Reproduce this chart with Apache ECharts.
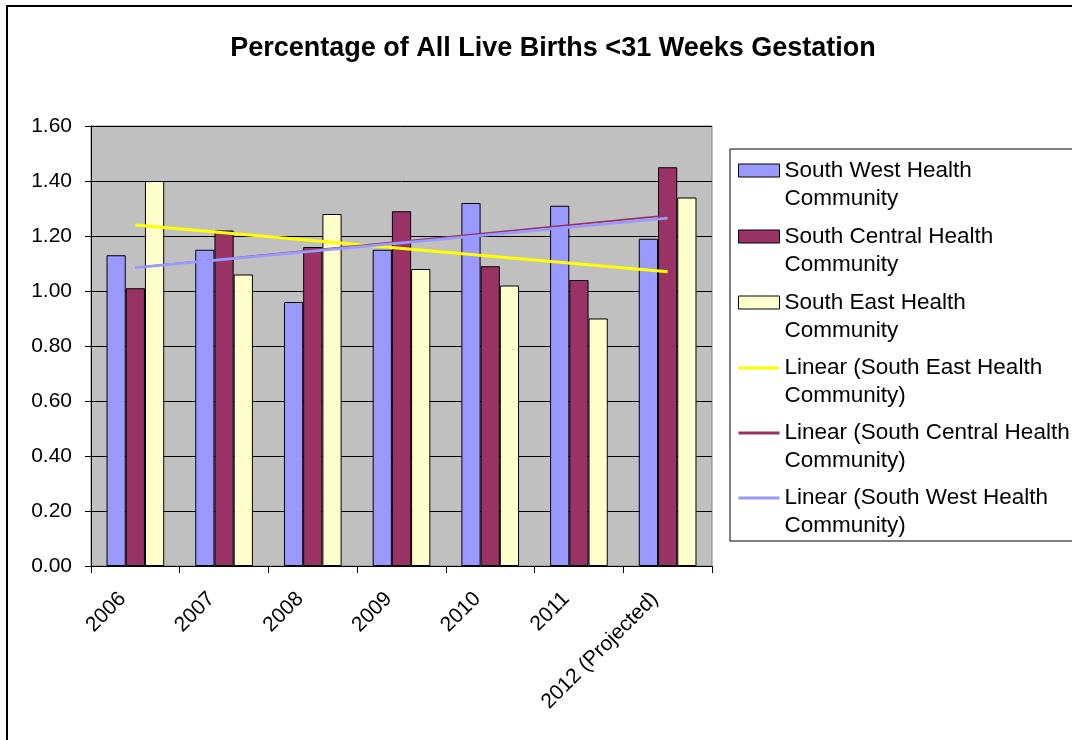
<!DOCTYPE html>
<html>
<head>
<meta charset="utf-8">
<title>Percentage of All Live Births &lt;31 Weeks Gestation</title>
<script src="https://cdn.jsdelivr.net/npm/echarts@6/dist/echarts.min.js"></script>
<style>
  html, body { margin: 0; padding: 0; background: #fff; overflow: hidden; }
  #chart { width: 1072px; height: 740px; }
</style>
</head>
<body>
<div id="chart"></div>
<script>
// categories and values
const years = ['2006', '2007', '2008', '2009', '2010', '2011', '2012 (Projected)']
const southWest = [1.13, 1.15, 0.96, 1.15, 1.32, 1.31, 1.19]
const southCentral = [1.01, 1.22, 1.16, 1.29, 1.09, 1.04, 1.45]
const southEast = [1.40, 1.06, 1.28, 1.08, 1.02, 0.90, 1.34]

// trendline end points (first and last year)
const trendSouthEast = [1.24, null, null, null, null, null, 1.07]
const trendSouthCentral = [1.085, null, null, null, null, null, 1.275]
const trendSouthWest = [1.085, null, null, null, null, null, 1.265]

const FONT = '"Liberation Sans", Arial, sans-serif'

// legend icons: box 41x56, the visible part sits on the first text line
const barIcon = 'path://M0,0M0,56M0,7.5h41v13h-41Z'
const lineIcon = 'path://M0,0M0,56M0,12.5h41v3h-41Z'

function barSeries(name, data, color) {
  return {
    name,
    type: 'bar',
    data,
    barGap: '0%',
    barCategoryGap: '35%',
    itemStyle: { color, borderColor: '#000', borderWidth: 1 },
  }
}

function trendSeries(name, data, color, width) {
  return {
    name,
    type: 'line',
    data,
    connectNulls: true,
    symbol: 'none',
    z: 3,
    itemStyle: { color },
    lineStyle: { color, width },
  }
}

const chart = echarts.init(document.getElementById('chart'))

chart.setOption({
  animation: false,
  title: {
    text: 'Percentage of All Live Births <31 Weeks Gestation',
    left: 548,
    top: 30,
    textAlign: 'center',
    textStyle: { fontFamily: FONT, fontSize: 27, fontWeight: 'bold', color: '#000' },
  },
  graphic: [{
    // outer chart frame
    type: 'rect',
    silent: true,
    shape: { x: 7, y: 6, width: 1200, height: 900 },
    style: { fill: 'none', stroke: '#000', lineWidth: 2 },
  }],
  legend: {
    orient: 'vertical',
    left: 730,
    top: 149,
    padding: [7, 200, 1, 8],
    itemWidth: 41,
    itemHeight: 56,
    itemGap: 9,
    borderColor: '#000',
    borderWidth: 1,
    formatter: name => name.replace(' Community', '\nCommunity'),
    textStyle: { fontFamily: FONT, fontSize: 22.5, lineHeight: 28, color: '#000' },
    data: [
      { name: 'South West Health Community', icon: barIcon, itemStyle: { color: '#9999FF', borderColor: '#000', borderWidth: 1 } },
      { name: 'South Central Health Community', icon: barIcon, itemStyle: { color: '#993366', borderColor: '#000', borderWidth: 1 } },
      { name: 'South East Health Community', icon: barIcon, itemStyle: { color: '#FFFFCC', borderColor: '#000', borderWidth: 1 } },
      { name: 'Linear (South East Health Community)', icon: lineIcon, itemStyle: { color: '#FFFF00', borderWidth: 0 } },
      { name: 'Linear (South Central Health Community)', icon: lineIcon, itemStyle: { color: '#993366', borderWidth: 0 } },
      { name: 'Linear (South West Health Community)', icon: lineIcon, itemStyle: { color: '#9999FF', borderWidth: 0 } },
    ],
  },
  grid: {
    left: 91,
    right: 360,
    top: 126,
    bottom: 174,
    show: true,
    backgroundColor: '#C0C0C0',
    borderColor: '#808080',
    borderWidth: 1,
  },
  xAxis: {
    type: 'category',
    data: years,
    axisLine: { lineStyle: { color: '#000', width: 1 } },
    axisTick: { show: true, length: 7, lineStyle: { color: '#000' } },
    axisLabel: {
      rotate: 45,
      margin: 17,
      padding: [0, 18, 0, 0],
      fontFamily: FONT,
      fontSize: 21,
      color: '#000',
    },
  },
  yAxis: {
    type: 'value',
    min: 0,
    max: 1.6,
    interval: 0.2,
    axisLine: { show: true, lineStyle: { color: '#000', width: 1 } },
    axisTick: { show: true, length: 6, lineStyle: { color: '#000' } },
    splitLine: { lineStyle: { color: '#000', width: 1 } },
    axisLabel: {
      margin: 19,
      fontFamily: FONT,
      fontSize: 21,
      color: '#000',
      formatter: v => v.toFixed(2),
    },
  },
  series: [
    barSeries('South West Health Community', southWest, '#9999FF'),
    barSeries('South Central Health Community', southCentral, '#993366'),
    barSeries('South East Health Community', southEast, '#FFFFCC'),
    trendSeries('Linear (South East Health Community)', trendSouthEast, '#FFFF00', 3),
    trendSeries('Linear (South Central Health Community)', trendSouthCentral, '#993366', 2),
    trendSeries('Linear (South West Health Community)', trendSouthWest, '#9999FF', 3),
  ],
})
</script>
</body>
</html>
